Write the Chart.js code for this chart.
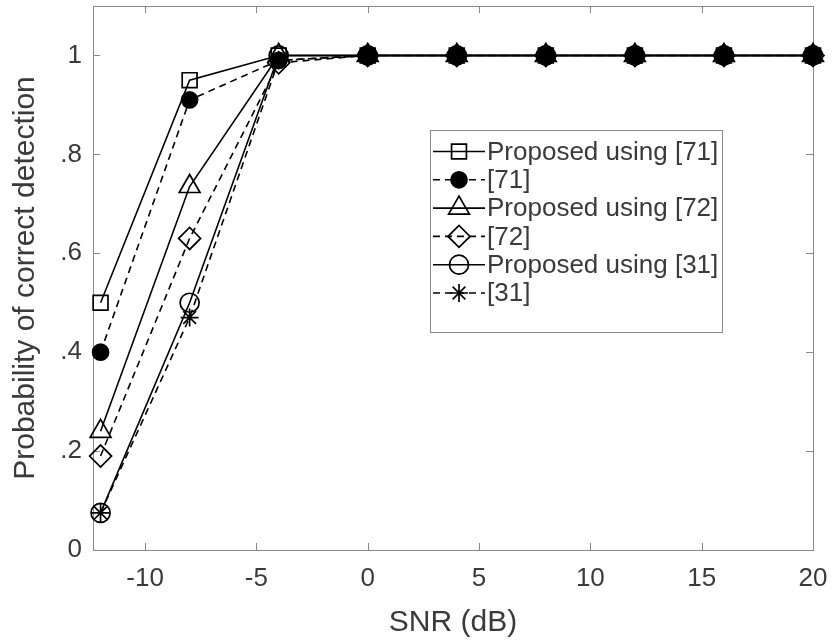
<!DOCTYPE html>
<html>
<head>
<meta charset="utf-8">
<script src="https://cdn.jsdelivr.net/npm/chart.js"></script>
<style>
  html, body { margin: 0; padding: 0; background: #ffffff; }
  #wrap { width: 832px; height: 641px; }
</style>
</head>
<body>
<div id="wrap"><canvas id="c" width="832" height="641"></canvas></div>
<script>
// ---- data ----
const snr = [-12, -8, -4, 0, 4, 8, 12, 16, 20];
const proposed71 = [0.50, 0.95, 1.00, 1, 1, 1, 1, 1, 1];
const ref71      = [0.40, 0.91, 0.99, 1, 1, 1, 1, 1, 1];
const proposed72 = [0.24, 0.735, 1.00, 1, 1, 1, 1, 1, 1];
const ref72      = [0.19, 0.63, 0.985, 1, 1, 1, 1, 1, 1];
const proposed31 = [0.075, 0.50, 1.00, 1, 1, 1, 1, 1, 1];
const ref31      = [0.075, 0.47, 0.99, 1, 1, 1, 1, 1, 1];
const seriesNames = ['Proposed using [71]', '[71]', 'Proposed using [72]', '[72]', 'Proposed using [31]', '[31]'];
const xTickValues = [-10, -5, 0, 5, 10, 15, 20];
const yTickValues = [0, 0.2, 0.4, 0.6, 0.8, 1];
const yTickLabels = ['0', '.2', '.4', '.6', '.8', '1'];
const xLabel = 'SNR (dB)';
const yLabel = 'Probability of correct detection';

const FONT = '"Liberation Sans", Arial, Helvetica, sans-serif';
const TEXT = '#3a3a3a';
const AXIS = '#8a8a8a';

function pts(ys) { return snr.map((x, i) => ({ x: x, y: ys[i] })); }

const styles = [
  { data: proposed71, pointStyle: 'rect',    radius: 10.5, fill: 'rgba(0,0,0,0)', dash: [] },
  { data: ref71,      pointStyle: 'circle',  radius: 8,    fill: '#000000',       dash: [7, 5] },
  { data: proposed72, pointStyle: 'triangle',radius: 12,   fill: 'rgba(0,0,0,0)', dash: [] },
  { data: ref72,      pointStyle: 'rectRot', radius: 11,   fill: 'rgba(0,0,0,0)', dash: [7, 5] },
  { data: proposed31, pointStyle: 'circle',  radius: 9.5,  fill: 'rgba(0,0,0,0)', dash: [] },
  { data: ref31,      pointStyle: 'star',    radius: 9,    fill: 'rgba(0,0,0,0)', dash: [7, 5] }
];

const datasets = styles.map((s, i) => ({
  label: seriesNames[i],
  data: pts(s.data),
  borderColor: '#000000',
  backgroundColor: s.fill,
  borderWidth: 1.6,
  borderDash: s.dash,
  pointStyle: s.pointStyle,
  pointRadius: s.radius,
  pointHoverRadius: s.radius,
  pointBorderColor: '#000000',
  pointBackgroundColor: s.fill,
  pointBorderWidth: 1.7,
  tension: 0,
  fill: false,
  clip: false,
  order: 6 - i
}));

// box + inward ticks
const boxPlugin = {
  id: 'boxTicks',
  beforeDatasetsDraw(chart) {
    const { ctx, chartArea: a, scales } = chart;
    ctx.save();
    ctx.strokeStyle = AXIS;
    ctx.lineWidth = 1;
    ctx.strokeRect(Math.round(a.left) + 0.5, Math.round(a.top) + 0.5,
                   Math.round(a.right - a.left), Math.round(a.bottom - a.top));
    const L = 7;
    ctx.beginPath();
    scales.x.ticks.forEach(t => {
      const px = Math.round(scales.x.getPixelForValue(t.value)) + 0.5;
      ctx.moveTo(px, a.bottom); ctx.lineTo(px, a.bottom - L);
      ctx.moveTo(px, a.top); ctx.lineTo(px, a.top + L);
    });
    scales.y.ticks.forEach(t => {
      const py = Math.round(scales.y.getPixelForValue(t.value)) + 0.5;
      ctx.moveTo(a.left, py); ctx.lineTo(a.left + L, py);
      ctx.moveTo(a.right, py); ctx.lineTo(a.right - L, py);
    });
    ctx.stroke();
    ctx.restore();
  }
};

// legend drawn in the same box style as the reference
const legendPlugin = {
  id: 'boxLegend',
  afterDraw(chart) {
    const { ctx } = chart;
    const bx = 430.5, by = 130.5, bw = 292, bh = 202;
    ctx.save();
    ctx.fillStyle = '#ffffff';
    ctx.fillRect(bx, by, bw, bh);
    ctx.strokeStyle = AXIS;
    ctx.lineWidth = 1;
    ctx.strokeRect(bx, by, bw, bh);
    const rowH = 28.3, y0 = 151.5;
    chart.data.datasets.forEach((ds, i) => {
      const y = y0 + i * rowH;
      ctx.save();
      ctx.strokeStyle = '#000000';
      ctx.lineWidth = 1.6;
      ctx.setLineDash(ds.borderDash || []);
      ctx.beginPath();
      ctx.moveTo(433, y); ctx.lineTo(485, y);
      ctx.stroke();
      ctx.setLineDash([]);
      ctx.fillStyle = ds.pointBackgroundColor;
      ctx.strokeStyle = '#000000';
      ctx.lineWidth = 1.7;
      Chart.helpers.drawPoint(ctx, {
        pointStyle: ds.pointStyle, rotation: 0,
        radius: ds.pointRadius, borderWidth: 1.7
      }, 459, y);
      ctx.restore();
      ctx.fillStyle = TEXT;
      ctx.font = '26px ' + FONT;
      ctx.textBaseline = 'middle';
      ctx.textAlign = 'left';
      ctx.fillText(ds.label, 487, y + 1);
    });
    ctx.restore();
  }
};

new Chart(document.getElementById('c'), {
  type: 'line',
  data: { datasets: datasets },
  options: {
    responsive: false,
    animation: false,
    devicePixelRatio: 1,
    layout: { autoPadding: false, padding: { top: 6, right: 19, left: 0, bottom: 0 } },
    plugins: { legend: { display: false }, tooltip: { enabled: false }, title: { display: false } },
    scales: {
      x: {
        type: 'linear',
        min: -12.34,
        max: 20,
        afterFit(s) { s.height = 91; s.paddingLeft = 0; s.paddingRight = 0; },
        afterBuildTicks(s) { s.ticks = xTickValues.map(v => ({ value: v })); },
        grid: { display: false, drawTicks: false },
        border: { display: false },
        ticks: {
          color: TEXT, font: { family: FONT, size: 26 }, padding: 13,
          maxRotation: 0, autoSkip: false,
          callback: (v) => String(v)
        },
        title: { display: true, text: xLabel, color: TEXT, font: { family: FONT, size: 30 }, padding: { top: 3, bottom: 0 } }
      },
      y: {
        type: 'linear',
        min: 0,
        max: 1.1,
        afterFit(s) { s.width = 93; s.paddingTop = 0; s.paddingBottom = 0; },
        afterBuildTicks(s) { s.ticks = yTickValues.map(v => ({ value: v })); },
        grid: { display: false, drawTicks: false },
        border: { display: false },
        ticks: {
          color: TEXT, font: { family: FONT, size: 26 }, padding: 11,
          autoSkip: false,
          callback: (v) => { const k = yTickValues.findIndex(t => Math.abs(t - v) < 1e-9); return k >= 0 ? yTickLabels[k] : ''; }
        },
        title: { display: true, text: yLabel, color: TEXT, font: { family: FONT, size: 30 }, padding: { top: 8, bottom: 0 } }
      }
    }
  },
  plugins: [boxPlugin, legendPlugin]
});
</script>
</body>
</html>
